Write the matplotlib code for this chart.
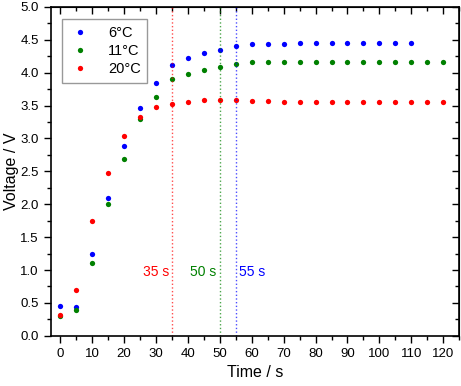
import matplotlib
matplotlib.use("Agg")
import matplotlib.pyplot as plt
from matplotlib.ticker import MultipleLocator

plt.rcParams['font.family'] = ['Liberation Sans', 'DejaVu Sans']

# data
t6 = [0, 5, 10, 15, 20, 25, 30, 35, 40, 45, 50, 55, 60, 65, 70, 75, 80, 85, 90, 95, 100, 105, 110]
v6 = [0.46, 0.44, 1.24, 2.10, 2.89, 3.46, 3.85, 4.11, 4.23, 4.30, 4.35, 4.40, 4.44, 4.43, 4.44, 4.45,
      4.45, 4.45, 4.45, 4.45, 4.45, 4.45, 4.45]
t11 = [0, 5, 10, 15, 20, 25, 30, 35, 40, 45, 50, 55, 60, 65, 70, 75, 80, 85, 90, 95, 100, 105, 110, 115, 120]
v11 = [0.30, 0.40, 1.10, 2.00, 2.69, 3.29, 3.63, 3.90, 3.98, 4.04, 4.09, 4.14, 4.16, 4.16, 4.16, 4.16,
       4.16, 4.16, 4.16, 4.16, 4.16, 4.16, 4.16, 4.16, 4.16]
t20 = [0, 5, 10, 15, 20, 25, 30, 35, 40, 45, 50, 55, 60, 65, 70, 75, 80, 85, 90, 95, 100, 105, 110, 115, 120]
v20 = [0.31, 0.69, 1.74, 2.47, 3.04, 3.33, 3.48, 3.52, 3.56, 3.59, 3.58, 3.58, 3.57, 3.57, 3.56, 3.56,
       3.56, 3.56, 3.55, 3.55, 3.55, 3.55, 3.55, 3.55, 3.55]

labels = ['6°C', '11°C', '20°C']
colors = ['#0000ff', '#008000', '#ff0000']
marks = [55, 50, 35]   # time when each curve levels off
mark_colors = ['#0000ff', '#008000', '#ff0000']

fig = plt.figure(figsize=(4.61, 3.86), dpi=100)
ax = fig.add_axes([0.11, 0.13, 0.886, 0.852])

for t, v, lab, c in zip([t6, t11, t20], [v6, v11, v20], labels, colors):
    ax.plot(t, v, 'o', color=c, ms=3.8, mec='none', label=lab)

for m, c in zip(marks, mark_colors):
    ax.axvline(m, color=c, ls=':', lw=1, alpha=0.7)

ax.text(34, 0.97, '35 s', color='#ff0000', fontsize=10, ha='right', va='center')
ax.text(49, 0.97, '50 s', color='#008000', fontsize=10, ha='right', va='center')
ax.text(56, 0.97, '55 s', color='#0000ff', fontsize=10, ha='left', va='center')

ax.set_xlim(-3, 125)
ax.set_ylim(0, 5)
ax.xaxis.set_major_locator(MultipleLocator(10))
ax.xaxis.set_minor_locator(MultipleLocator(5))
ax.yaxis.set_major_locator(MultipleLocator(0.5))
ax.yaxis.set_minor_locator(MultipleLocator(0.25))
ax.tick_params(which='both', direction='out', top=False, right=False, labelsize=9.5, width=1)
ax.tick_params(which='major', length=5)
ax.tick_params(which='minor', length=3)

# mirrored ticks on top/right pointing inward
axt = ax.secondary_xaxis('top')
axt.xaxis.set_major_locator(MultipleLocator(10))
axt.xaxis.set_minor_locator(MultipleLocator(5))
axt.tick_params(which='both', direction='in', labeltop=False, width=1)
axt.tick_params(which='major', length=5)
axt.tick_params(which='minor', length=3)
axr = ax.secondary_yaxis('right')
axr.yaxis.set_major_locator(MultipleLocator(0.5))
axr.yaxis.set_minor_locator(MultipleLocator(0.25))
axr.tick_params(which='both', direction='in', labelright=False, width=1)
axr.tick_params(which='major', length=5)
axr.tick_params(which='minor', length=3)

for s in ax.spines.values():
    s.set_linewidth(1.2)

ax.set_xlabel('Time / s', fontsize=11.5)
ax.set_ylabel('Voltage / V', fontsize=11.5, labelpad=1)
ax.yaxis.set_major_formatter(plt.FormatStrFormatter('%.1f'))

leg = ax.legend(loc='upper left', bbox_to_anchor=(0.01, 0.985), fontsize=10.5, frameon=True,
                fancybox=False, edgecolor='#808080', handletextpad=1.2, borderpad=0.45,
                labelspacing=0.3, handlelength=1.5)
leg.get_frame().set_linewidth(1)

fig.savefig('out.png', dpi=100)
